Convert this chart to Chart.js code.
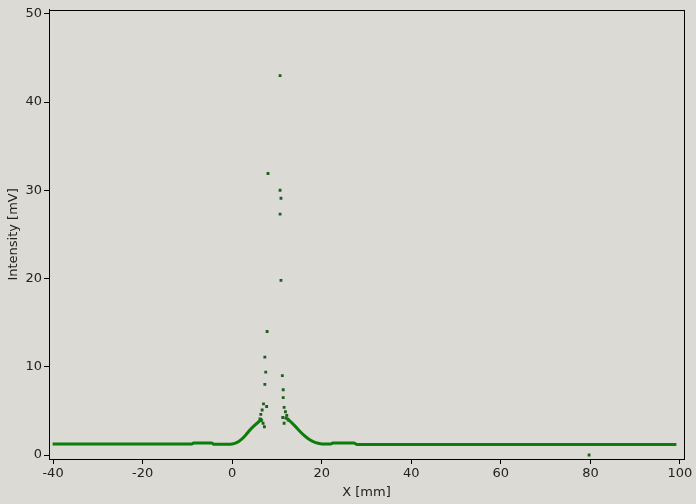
<!DOCTYPE html>
<html>
<head>
<meta charset="utf-8">
<script src="https://cdn.jsdelivr.net/npm/chart.js@4"></script>
<style>
  html, body { margin: 0; padding: 0; background: #dcdad5; }
  #wrap { width: 696px; height: 504px; }
</style>
</head>
<body>
<div id="wrap"><canvas id="myChart" width="696" height="504"></canvas></div>
<script>
// smooth envelope (dense trace), null = break in the trace
const traceX = [-40.1, -9, -8.6, -4.6, -4, -1, 0, 1, 2, 3, 4, 5, 6, 6.8, 9,
  12.2, 13, 14, 15, 16, 17, 18, 19, 20.2, 22, 22.5, 27.2, 27.8, 99.2];
const traceY = [1.25, 1.25, 1.36, 1.36, 1.22, 1.22, 1.25, 1.4, 1.75, 2.25, 2.85, 3.35, 3.8, 4.1, null,
  4.2, 3.8, 3.3, 2.75, 2.25, 1.85, 1.55, 1.36, 1.25, 1.25, 1.37, 1.37, 1.2, 1.2];

// scattered samples around the peak
const peakX = [6.2, 6.4, 6.7, 7.0, 7.7, 7.2, 6.9, 6.5, 7.3, 7.5, 7.3, 7.8, 8.0,
  10.7, 10.7, 10.9, 10.7, 10.9, 11.2, 11.4, 11.4, 11.6, 11.9, 12.2, 11.3, 11.6, 12.5, 12.0, 79.7];
const peakY = [4.1, 4.6, 5.1, 5.8, 5.5, 3.2, 3.6, 3.9, 8.0, 9.4, 11.1, 14.0, 31.9,
  43.0, 30.0, 29.1, 27.3, 19.8, 9.0, 7.4, 6.5, 5.4, 4.9, 4.5, 4.25, 3.6, 3.95, 4.2, 0];

const xTicks = [-40, -20, 0, 20, 40, 60, 80, 100];
const yTicks = [0, 10, 20, 30, 40, 50];

const toPoints = (xs, ys) => xs.map((x, i) => ({ x: x, y: ys[i] }));

const frame = {
  id: "frame",
  beforeDraw(chart) {
    const c = chart.ctx;
    c.save();
    c.fillStyle = "#dcdad5";
    c.fillRect(0, 0, chart.width, chart.height);
    c.restore();
  },
  afterDraw(chart) {
    const a = chart.chartArea;
    const c = chart.ctx;
    c.save();
    c.strokeStyle = "#000";
    c.lineWidth = 1;
    c.strokeRect(Math.round(a.left) + 0.5, Math.round(a.top) + 0.5,
      Math.round(a.right - a.left), Math.round(a.bottom - a.top));
    c.restore();
  },
};

Chart.defaults.font.family = "'DejaVu Sans', sans-serif";
Chart.defaults.font.size = 13;
Chart.defaults.color = "#222";

const ctx = document.getElementById("myChart").getContext("2d");
new Chart(ctx, {
  type: "scatter",
  data: {
    datasets: [
      {
        data: toPoints(traceX, traceY),
        showLine: true,
        spanGaps: false,
        borderColor: "#0b7d0b",
        borderWidth: 3,
        cubicInterpolationMode: "monotone",
        pointRadius: 0,
      },
      {
        data: toPoints(peakX, peakY),
        pointStyle: "rect",
        pointRadius: 2,
        backgroundColor: "#1e5e1e",
        borderColor: "#1e5e1e",
        borderWidth: 0,
      },
    ],
  },
  options: {
    responsive: false,
    animation: false,
    layout: { padding: { top: 8, right: 12, left: 6, bottom: 0 } },
    plugins: { legend: { display: false }, tooltip: { enabled: false } },
    scales: {
      x: {
        type: "linear",
        min: -40.9,
        max: 100.9,
        afterFit: (s) => { s.height = 45; },
        afterBuildTicks: (s) => { s.ticks = xTicks.map((v) => ({ value: v })); },
        grid: { drawOnChartArea: false, drawTicks: true, tickLength: 5, color: "#000" },
        border: { color: "#000" },
        ticks: { padding: 2, color: "#222" },
        title: { display: true, text: "X [mm]", color: "#222", padding: { top: 2, bottom: 4 } },
      },
      y: {
        type: "linear",
        min: -0.45,
        max: 50.45,
        afterFit: (s) => { s.width = 43; },
        afterBuildTicks: (s) => { s.ticks = yTicks.map((v) => ({ value: v })); },
        grid: { drawOnChartArea: false, drawTicks: true, tickLength: 5, color: "#000" },
        border: { color: "#000" },
        ticks: { padding: 2, color: "#222" },
        title: { display: true, text: "Intensity [mV]", color: "#222", padding: { top: 0, bottom: 6 } },
      },
    },
  },
  plugins: [frame],
});
</script>
</body>
</html>
